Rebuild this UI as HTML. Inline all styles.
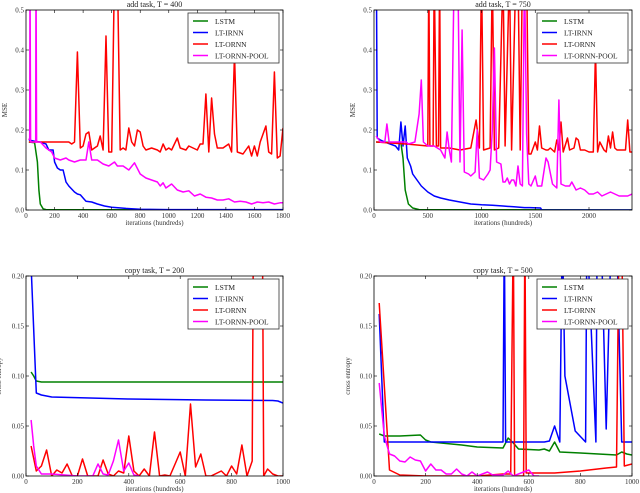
<!DOCTYPE html>
<html><head><meta charset="utf-8"><style>
body{margin:0;background:#fff}
svg{display:block;font-family:"Liberation Serif","DejaVu Serif",serif}
</style></head><body>
<svg id="fig" width="640" height="493" xmlns="http://www.w3.org/2000/svg"></svg>
<script>
// ---- data ----
const addT400_lstm = [[20,.17],[60,.168],[80,.12],[90,.05],[100,.015],[120,.003],[140,.001],[1800,0]];
const addT400_irnn = [[20,.175],[60,.172],[100,.17],[140,.165],[160,.15],[190,.15],[200,.12],[220,.105],[240,.1],[260,.1],[280,.07],[300,.06],[340,.045],[360,.04],[380,.038],[400,.03],[420,.022],[460,.02],[500,.015],[550,.01],[600,.007],[700,.004],[800,.002],[1000,.001],[1800,.001]];
const addT400_ornn = [[20,.17],[300,.17],[320,.165],[340,.17],[360,.395],[380,.155],[400,.16],[420,.19],[440,.195],[460,.15],[480,.155],[500,.16],[520,.185],[540,.15],[560,.435],[580,.145],[600,.145],[620,.6],[640,.6],[660,.15],[680,.155],[700,.15],[720,.205],[740,.17],[760,.16],[780,.2],[800,.195],[820,.16],[840,.15],[880,.155],[920,.15],[940,.145],[960,.165],[980,.15],[1000,.155],[1020,.15],[1060,.18],[1080,.155],[1120,.15],[1140,.16],[1200,.15],[1220,.165],[1240,.165],[1260,.29],[1280,.145],[1300,.28],[1320,.19],[1340,.155],[1380,.155],[1420,.165],[1440,.145],[1460,.39],[1480,.145],[1520,.14],[1560,.16],[1580,.135],[1600,.16],[1620,.135],[1640,.17],[1680,.21],[1700,.145],[1720,.14],[1740,.345],[1760,.13],[1780,.135],[1800,.205]];
const addT400_pool = [[20,.175],[26,.18],[28,.6],[32,.17],[68,.17],[70,.6],[74,.17],[100,.17],[140,.155],[180,.145],[200,.13],[240,.125],[280,.13],[300,.125],[340,.12],[380,.125],[420,.125],[440,.17],[460,.125],[500,.125],[540,.115],[580,.11],[620,.12],[640,.11],[680,.11],[720,.1],[760,.118],[800,.09],[840,.08],[880,.075],[920,.07],[940,.06],[960,.068],[980,.055],[1020,.065],[1060,.05],[1100,.045],[1140,.048],[1180,.035],[1220,.04],[1260,.032],[1300,.03],[1340,.025],[1380,.025],[1420,.028],[1460,.02],[1500,.022],[1540,.02],[1580,.015],[1620,.02],[1660,.018],[1700,.02],[1740,.015],[1780,.018],[1800,.018]];

const addT750_lstm = [[20,.17],[250,.168],[270,.13],[290,.05],[320,.015],[360,.005],[420,.001],[2400,0]];
const addT750_irnn = [[22,.6],[30,.18],[60,.175],[100,.17],[200,.16],[230,.15],[250,.22],[270,.16],[290,.21],[310,.13],[340,.11],[360,.09],[400,.075],[440,.06],[500,.045],[560,.035],[620,.03],[700,.025],[800,.02],[900,.015],[1000,.013],[1100,.012],[1200,.01],[1300,.008],[1400,.006],[1450,.006],[1550,.005],[1560,0],[2400,0]];
const addT750_ornn = [[20,.17],[300,.165],[500,.16],[510,.6],[520,.16],[550,.16],[560,.6],[580,.16],[600,.16],[610,.6],[620,.155],[700,.155],[800,.15],[900,.155],[950,.225],[980,.155],[1000,.6],[1020,.15],[1080,.155],[1100,.6],[1120,.15],[1160,.155],[1200,.6],[1220,.16],[1260,.6],[1280,.15],[1320,.6],[1340,.6],[1360,.15],[1380,.6],[1400,.6],[1420,.6],[1440,.14],[1460,.14],[1500,.17],[1520,.15],[1540,.21],[1560,.155],[1600,.15],[1620,.15],[1640,.155],[1680,.145],[1700,.175],[1720,.15],[1740,.22],[1760,.145],[1800,.18],[1820,.15],[1860,.155],[1880,.18],[1900,.175],[1920,.15],[1960,.15],[2000,.145],[2040,.145],[2060,.4],[2080,.145],[2100,.17],[2140,.15],[2160,.145],[2180,.185],[2200,.155],[2220,.195],[2240,.155],[2260,.15],[2300,.15],[2340,.15],[2360,.225],[2380,.145],[2400,.145]];
const addT750_pool = [[20,.185],[60,.17],[100,.17],[120,.215],[140,.17],[200,.17],[260,.17],[300,.17],[320,.165],[380,.17],[420,.24],[440,.325],[460,.17],[500,.16],[560,.16],[620,.15],[660,.13],[680,.195],[700,.15],[720,.12],[740,.5],[760,.6],[780,.6],[800,.12],[820,.45],[840,.095],[880,.09],[900,.085],[940,.095],[960,.2],[980,.08],[1020,.075],[1060,.09],[1080,.1],[1100,.2],[1120,.405],[1140,.12],[1180,.115],[1200,.07],[1220,.07],[1240,.08],[1260,.065],[1280,.075],[1300,.075],[1320,.06],[1340,.11],[1360,.065],[1380,.06],[1400,.6],[1420,.19],[1440,.065],[1460,.06],[1500,.085],[1520,.06],[1560,.06],[1600,.13],[1620,.12],[1660,.065],[1680,.06],[1700,.055],[1720,.275],[1740,.065],[1780,.06],[1820,.06],[1840,.07],[1880,.05],[1920,.055],[1960,.05],[2000,.04],[2040,.04],[2080,.045],[2120,.035],[2160,.04],[2200,.045],[2240,.04],[2280,.035],[2320,.035],[2360,.035],[2400,.04]];

const copyT200_lstm = [[20,.104],[30,.1],[40,.095],[60,.094],[1000,.094]];
const copyT200_irnn = [[20,.21],[40,.083],[60,.081],[100,.079],[400,.077],[700,.076],[960,.0755],[980,.075],[1000,.073]];
const copyT200_ornn = [[20,.03],[40,.005],[60,.01],[80,.026],[100,0],[120,.006],[140,.003],[160,.012],[180,0],[200,0],[220,.017],[240,0],[260,0],[280,0],[300,.016],[320,.002],[340,0],[360,.005],[380,.003],[400,.04],[420,.005],[440,0],[460,.007],[480,0],[500,.044],[520,0],[540,.001],[560,0],[580,.012],[600,.024],[620,0],[640,.072],[660,.009],[680,.022],[700,0],[720,0],[760,.005],[780,0],[800,.01],[820,.002],[840,.031],[860,0],[880,.015],[885,.25],[920,.25],[925,0],[940,.007],[960,.002],[980,0],[1000,0]];
const copyT200_pool = [[20,.056],[30,.03],[40,.01],[60,.002],[100,.002],[200,0],[260,0],[280,.012],[300,.002],[320,.001],[340,.015],[360,.036],[380,.005],[400,.013],[420,.001],[440,0]];

const copyT500_lstm = [[20,.042],[40,.04],[100,.04],[180,.041],[200,.036],[220,.034],[300,.032],[340,.031],[400,.029],[500,.028],[520,.038],[540,.033],[560,.027],[640,.026],[660,.027],[680,.025],[700,.034],[720,.024],[800,.023],[940,.021],[960,.024],[980,.022],[1000,.021]];
const copyT500_irnn = [[20,.162],[40,.034],[500,.034],[505,.25],[510,.034],[660,.034],[680,.035],[700,.05],[720,.034],[730,.25],[740,.1],[780,.045],[820,.034],[825,.25],[860,.034],[865,.25],[880,.25],[900,.047],[920,.25],[940,.25],[960,.034],[1000,.034]];
const copyT500_ornn = [[20,.173],[60,.006],[100,.001],[200,0],[400,0],[500,.002],[530,.002],[540,.25],[545,0],[580,0],[585,.25],[590,.003],[700,.003],[800,.005],[900,.008],[940,.009],[950,.25],[960,.25],[970,.01],[1000,.012]];
const copyT500_pool = [[20,.093],[40,.04],[60,.022],[80,.02],[100,.015],[120,.014],[140,.019],[160,.016],[180,.015],[200,.005],[220,.012],[240,.006],[260,.006],[280,.002],[300,.002],[320,.007],[340,.002],[360,0],[380,.004],[400,0],[440,.004],[460,.001],[500,.001],[520,.005],[540,0],[600,.006],[620,0],[640,0]];

const legendNames = ["LSTM","LT-IRNN","LT-ORNN","LT-ORNN-POOL"];
const colors = ["#008000","#0000ff","#ff0000","#ff00ff"];
const xTicks400 = [0,200,400,600,800,1000,1200,1400,1600,1800];
const xTicks750 = [0,500,1000,1500,2000];
const xTicks1000 = [0,200,400,600,800,1000];
const yTicksMSE = [0,0.1,0.2,0.3,0.4,0.5];
const yTicksCE = [0,0.05,0.1,0.15,0.2];

const NS="http://www.w3.org/2000/svg";
const fig=document.getElementById('fig');
function mk(tag,attrs,parent){const e=document.createElementNS(NS,tag);for(const k in attrs)e.setAttribute(k,attrs[k]);(parent||fig).appendChild(e);return e;}

function panel(id,box,xmax,ymax,xt,yt,ydec,title,ylab,ylabX,series){
  const [L,T,R,B]=box;
  const sx=v=>L+(v/xmax)*(R-L), sy=v=>B-(v/ymax)*(B-T);
  const g=mk('g',{});
  
  
  const cp=mk('clipPath',{id:'cp-'+id},g);mk('rect',{x:L,y:T,width:R-L,height:B-T},cp);
  const sg=mk('g',{'clip-path':'url(#cp-'+id+')'},g);
  series.forEach((s,i)=>{
    const p=mk('polyline',{points:s.map(d=>sx(d[0]).toFixed(1)+','+sy(d[1]).toFixed(1)).join(' '),fill:'none',stroke:colors[i],'stroke-width':1.5,'stroke-linejoin':'round'},sg);
    
    
  });
  mk('rect',{x:L,y:T,width:R-L,height:B-T,fill:'none',stroke:'#000','stroke-width':0.8},g);
  xt.forEach(v=>{const x=sx(v);
    mk('line',{x1:x,y1:B,x2:x,y2:B-3,stroke:'#000','stroke-width':0.6},g);
    mk('line',{x1:x,y1:T,x2:x,y2:T+3,stroke:'#000','stroke-width':0.6},g);
    const t=mk('text',{x:x,y:B+8,'font-size':7,'text-anchor':'middle',fill:'#333'},g);t.textContent=v;
    });
  yt.forEach(v=>{const y=sy(v);
    mk('line',{x1:L,y1:y,x2:L+3,y2:y,stroke:'#000','stroke-width':0.6},g);
    mk('line',{x1:R,y1:y,x2:R-3,y2:y,stroke:'#000','stroke-width':0.6},g);
    const t=mk('text',{x:L-2,y:y+2.5,'font-size':7,'text-anchor':'end',fill:'#333'},g);t.textContent=v.toFixed(ydec);
    });
  const tt=mk('text',{x:(L+R)/2,y:T-3,'font-size':8,'text-anchor':'middle',fill:'#222'},g);tt.textContent=title;
  
  const xl=mk('text',{x:(L+R)/2,y:B+15,'font-size':7,'text-anchor':'middle',fill:'#333'},g);xl.textContent='iterations (hundreds)';
  
  const yl=mk('text',{x:ylabX,y:(T+B)/2,'font-size':7,'text-anchor':'middle',fill:'#333',transform:'rotate(-90 '+ylabX+' '+(T+B)/2+')'},g);yl.textContent=ylab;
  
  // legend
  const lx=R-95,ly=T+3;
  const lg=mk('g',{},g);
  
  mk('rect',{x:lx,y:ly,width:91,height:50,fill:'#fff',stroke:'#333','stroke-width':0.8},lg);
  legendNames.forEach((n,i)=>{const y=ly+8+i*11.5;
    mk('line',{x1:lx+5,y1:y,x2:lx+20,y2:y,stroke:colors[i],'stroke-width':1.5},lg);
    const t=mk('text',{x:lx+27,y:y+2.8,'font-size':7.5,fill:'#222'},lg);t.textContent=n;
    });
}
panel('add-t400',[26,10,283,210],1800,0.5,xTicks400,yTicksMSE,1,'add task, T = 400','MSE',7,[addT400_lstm,addT400_irnn,addT400_ornn,addT400_pool]);
panel('add-t750',[374,10,632,210],2400,0.5,xTicks750,yTicksMSE,1,'add task, T = 750','MSE',355,[addT750_lstm,addT750_irnn,addT750_ornn,addT750_pool]);
panel('copy-t200',[26,276,283,476],1000,0.2,xTicks1000,yTicksCE,2,'copy task, T = 200','cross entropy',1,[copyT200_lstm,copyT200_irnn,copyT200_ornn,copyT200_pool]);
panel('copy-t500',[374,276,632,476],1000,0.2,xTicks1000,yTicksCE,2,'copy task, T = 500','cross entropy',350,[copyT500_lstm,copyT500_irnn,copyT500_ornn,copyT500_pool]);
</script>
</body></html>
